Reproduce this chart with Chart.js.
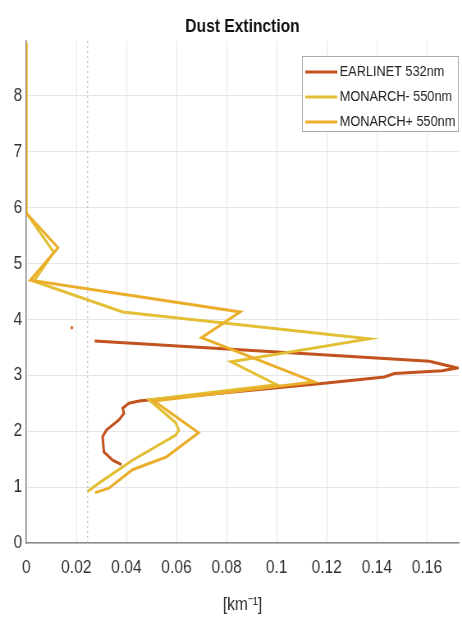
<!DOCTYPE html>
<html>
<head>
<meta charset="utf-8">
<script src="https://cdn.jsdelivr.net/npm/chart.js@4.4.1/dist/chart.umd.min.js"></script>
<style>
  html, body { margin: 0; padding: 0; background: #ffffff; overflow: hidden; }
  /* the figure is laid out wide and then squeezed horizontally, giving narrow lettering */
  #wrap { width: 563px; height: 619px; transform: scaleX(0.8206); transform-origin: 0 0; }
</style>
</head>
<body>
<div id="wrap"><canvas id="c" width="563" height="619"></canvas></div>
<script>
// Dust extinction profiles: extinction [km^-1] against altitude [km]
const earlinetAlt = [3.61, 3.36, 3.25, 3.13, 3.08, 3.03, 2.97, 2.86, 2.54, 2.50, 2.41, 2.32, 2.20, 2.02, 1.90, 1.63, 1.48, 1.40];
const earlinetExt = [0.0273, 0.120, 0.161, 0.172, 0.166, 0.147, 0.143, 0.120, 0.045, 0.041, 0.0385, 0.039, 0.037, 0.032, 0.0305, 0.031, 0.0345, 0.038];

const monarchMinusAlt = [8.95, 5.90, 5.20, 4.68, 4.13, 3.65, 3.24, 2.83, 2.56, 2.15, 2.02, 1.93, 1.48, 1.07, 0.92];
const monarchMinusExt = [0, 0, 0.011, 0.003, 0.0385, 0.1368, 0.0818, 0.100, 0.049, 0.0597, 0.0609, 0.0597, 0.0424, 0.029, 0.0245];

const monarchPlusAlt = [8.95, 5.90, 5.28, 4.70, 4.13, 3.67, 2.88, 2.54, 1.97, 1.54, 1.31, 0.98, 0.90];
const monarchPlusExt = [0, 0, 0.0127, 0.0016, 0.0854, 0.070, 0.115, 0.051, 0.0688, 0.056, 0.0424, 0.033, 0.0275];

// isolated EARLINET sample above the main profile
const strayAlt = [3.85];
const strayExt = [0.0182];

// vertical reference level
const refExt = 0.0245;

const seriesNames = ['EARLINET 532nm', 'MONARCH- 550nm', 'MONARCH+ 550nm'];
const xTickValues = [0, 0.02, 0.04, 0.06, 0.08, 0.1, 0.12, 0.14, 0.16];
const yTickValues = [0, 1, 2, 3, 4, 5, 6, 7, 8];

const FONT = "'Liberation Sans', Arial, sans-serif";
const COLORS = ['#c2531f', '#e2bf35', '#ebae2b'];

const toPoints = (xs, ys) => xs.map((x, i) => ({ x: x, y: ys[i] }));

const lineStyle = (color, order) => ({
  showLine: true, borderColor: color, backgroundColor: color,
  borderWidth: 3, pointRadius: 0, pointHoverRadius: 0, tension: 0, fill: false, order: order
});

// legend box drawn inside the plot area, upper right
const boxLegend = {
  id: 'boxLegend',
  afterDatasetsDraw(chart) {
    const ctx = chart.ctx;
    const items = chart.data.datasets.filter(d => d.inLegend);
    const x0 = 368, y0 = 56, w = 190, rowH = 25;
    const h = items.length * rowH;
    ctx.save();
    ctx.fillStyle = '#ffffff';
    ctx.fillRect(x0, y0, w, h);
    ctx.strokeStyle = '#a8a8a8';
    ctx.lineWidth = 1;
    ctx.strokeRect(x0 + 0.5, y0 + 0.5, w, h);
    ctx.font = '15.5px ' + FONT;
    ctx.textBaseline = 'middle';
    ctx.textAlign = 'left';
    items.forEach((d, i) => {
      const cy = y0 + 16 + i * rowH;
      ctx.strokeStyle = d.borderColor;
      ctx.lineWidth = 2.8;
      ctx.beginPath();
      ctx.moveTo(372, cy);
      ctx.lineTo(411, cy);
      ctx.stroke();
      ctx.fillStyle = '#222222';
      ctx.fillText(d.label, 414, cy);
    });
    ctx.restore();
  }
};

new Chart(document.getElementById('c'), {
  type: 'scatter',
  data: {
    datasets: [
      Object.assign({ label: seriesNames[0], data: toPoints(earlinetExt, earlinetAlt), inLegend: true }, lineStyle(COLORS[0], 3)),
      Object.assign({ label: seriesNames[1], data: toPoints(monarchMinusExt, monarchMinusAlt), inLegend: true }, lineStyle(COLORS[1], 2)),
      Object.assign({ label: seriesNames[2], data: toPoints(monarchPlusExt, monarchPlusAlt), inLegend: true }, lineStyle(COLORS[2], 1)),
      {
        label: 'stray', data: toPoints(strayExt, strayAlt), showLine: false,
        pointRadius: 1.8, pointBorderWidth: 0, backgroundColor: '#d9703a', borderColor: '#d9703a', order: 0
      },
      {
        label: 'ref', data: [{ x: refExt, y: 0 }, { x: refExt, y: 8.98 }], showLine: true,
        borderColor: '#b8b8b8', borderWidth: 1.2, borderDash: [2, 3], pointRadius: 0, order: 5
      }
    ]
  },
  options: {
    responsive: false,
    animation: false,
    devicePixelRatio: 1,
    layout: { padding: 0 },
    plugins: {
      legend: { display: false },
      tooltip: { enabled: false },
      title: {
        display: true,
        fullSize: false,
        text: 'Dust Extinction',
        color: '#111111',
        font: { family: FONT, size: 19, weight: 'bold' },
        padding: { top: 15, bottom: 3 }
      }
    },
    scales: {
      x: {
        type: 'linear', position: 'bottom', min: 0, max: 0.1727,
        afterFit: s => { s.height = 76; },
        afterBuildTicks: s => { s.ticks = xTickValues.map(v => ({ value: v })); },
        ticks: {
          color: '#303030', padding: 13, maxRotation: 0, autoSkip: false,
          font: { family: FONT, size: 19 },
          callback: v => String(Number(v.toFixed(2)))
        },
        grid: { color: '#e6e6e6', lineWidth: 1, drawTicks: false },
        border: { color: '#8a8a8a', width: 1.5 },
        title: {
          display: true, text: '[km⁻¹]', color: '#303030',
          font: { family: FONT, size: 19 }, padding: { top: 0, bottom: 3 }
        }
      },
      y: {
        type: 'linear', position: 'left', min: 0, max: 8.98,
        afterFit: s => { s.width = 32; },
        afterBuildTicks: s => { s.ticks = yTickValues.map(v => ({ value: v })); },
        ticks: {
          color: '#303030', padding: 5, autoSkip: false,
          font: { family: FONT, size: 19 },
          callback: v => String(v)
        },
        grid: { color: '#e6e6e6', lineWidth: 1, drawTicks: false },
        border: { color: '#8a8a8a', width: 1.5 }
      }
    }
  },
  plugins: [boxLegend]
});
</script>
</body>
</html>
